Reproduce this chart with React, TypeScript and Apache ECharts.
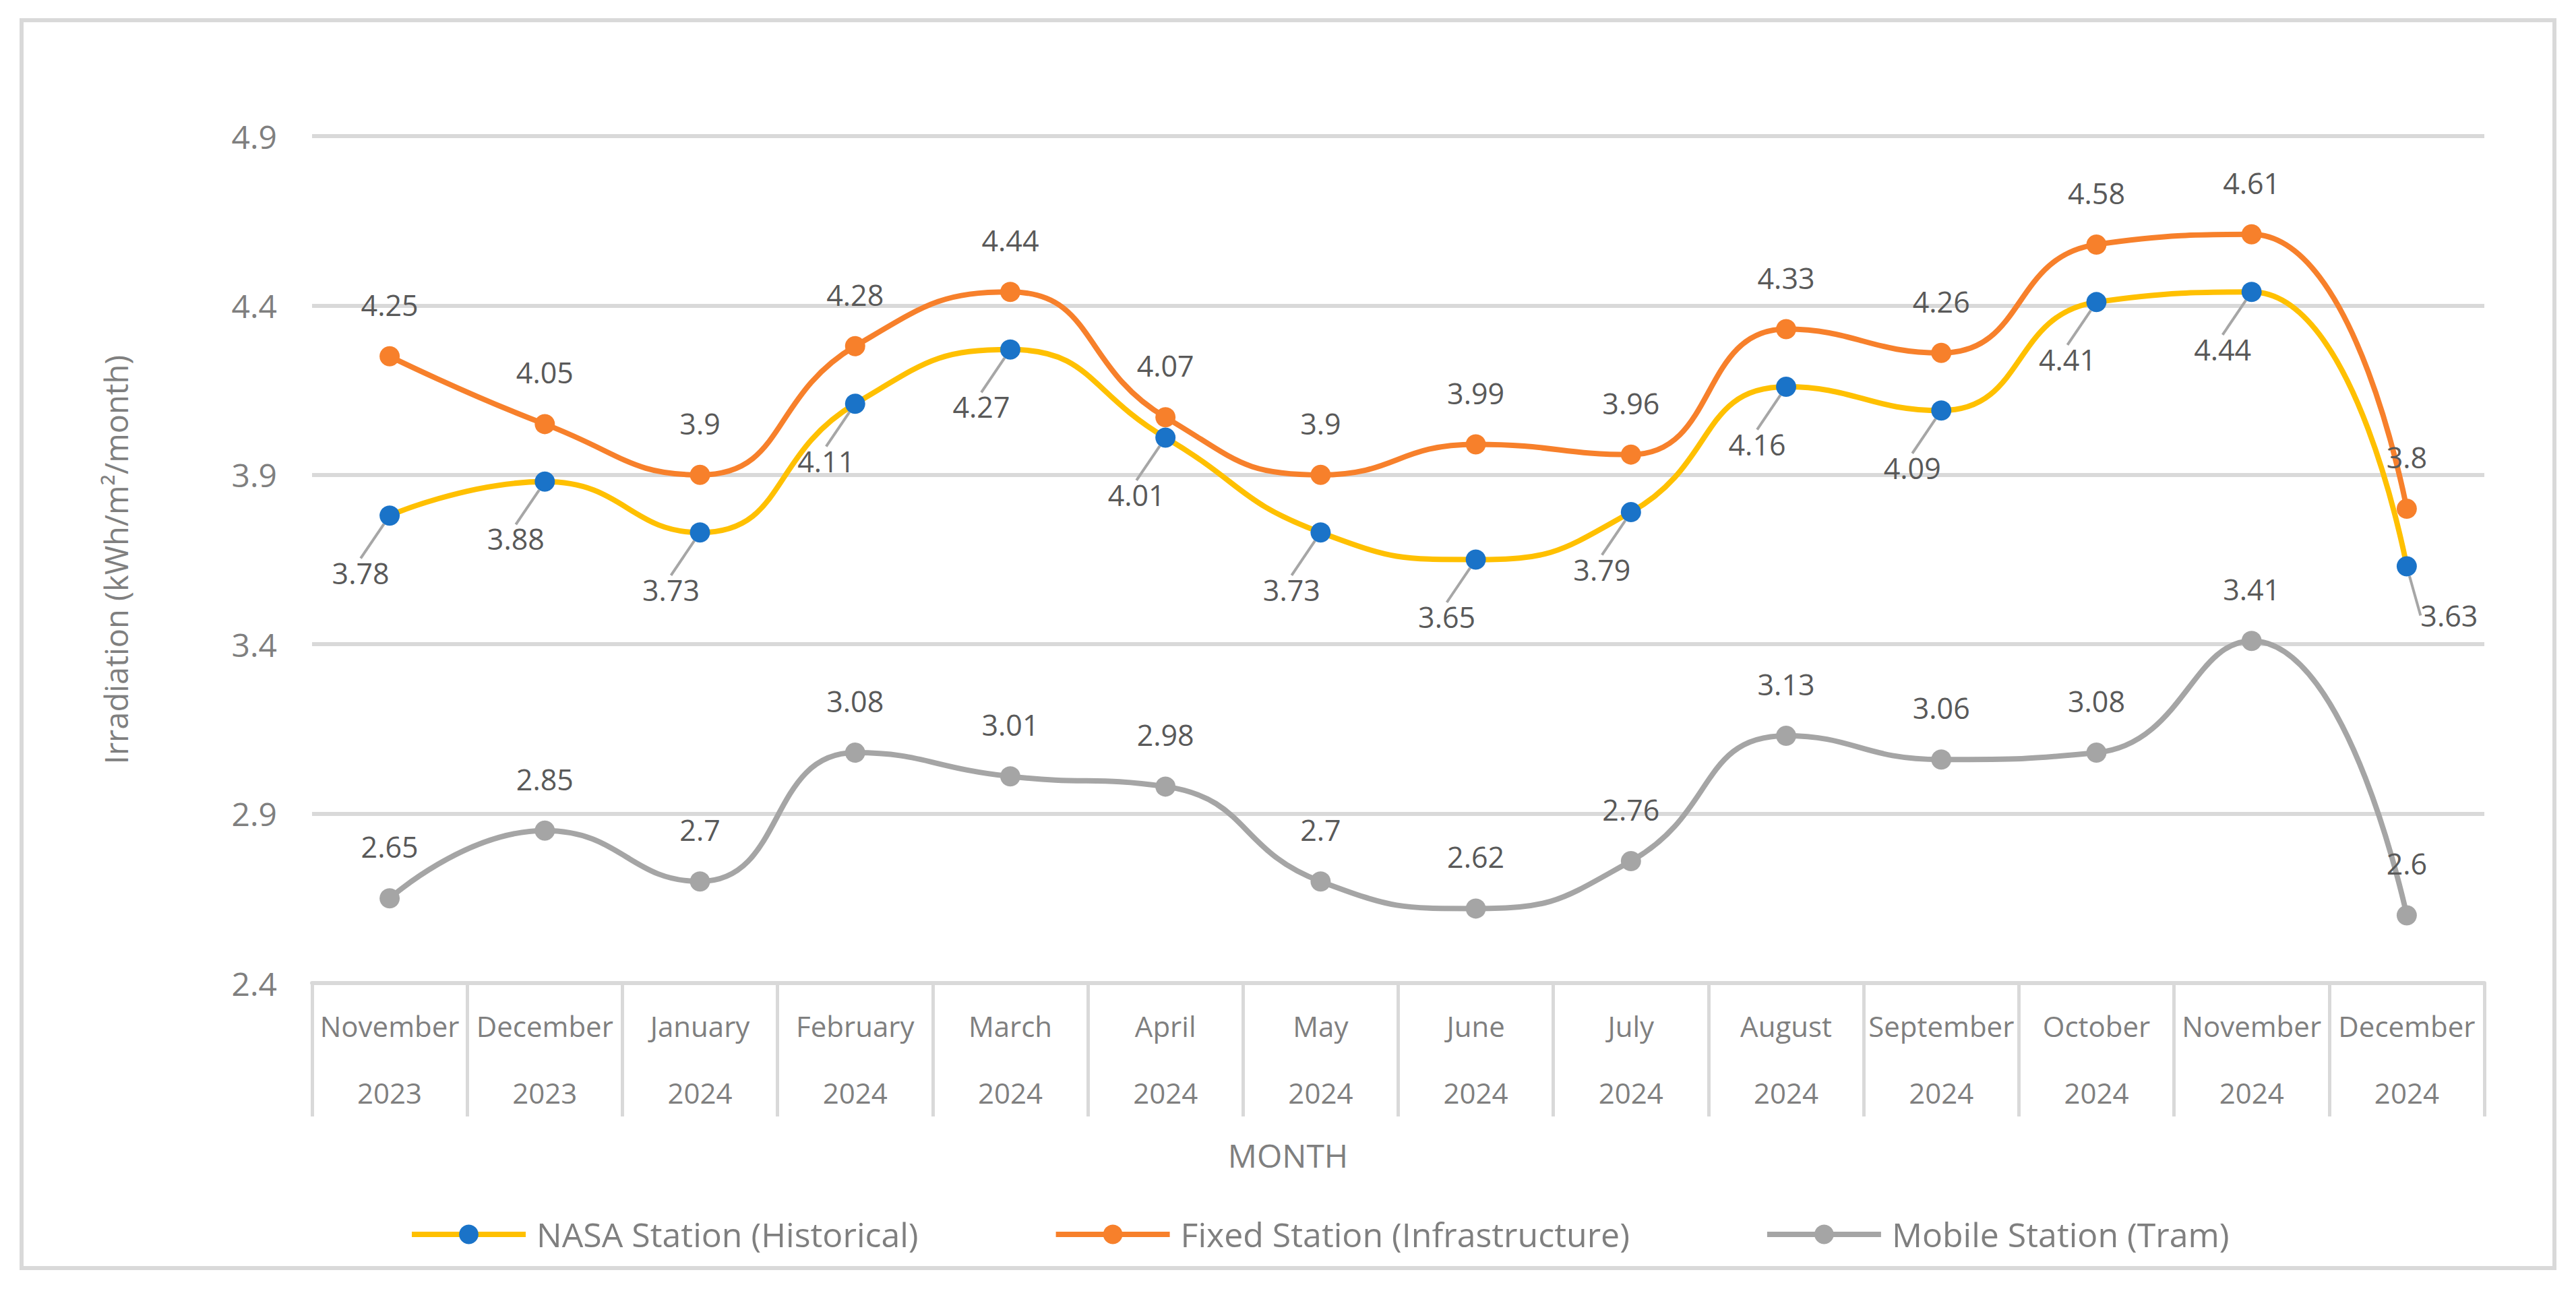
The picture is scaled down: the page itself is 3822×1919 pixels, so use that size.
import { useEffect, useRef } from 'react';
import * as echarts from 'echarts';

const months = [
  'November', 'December', 'January', 'February', 'March', 'April', 'May',
  'June', 'July', 'August', 'September', 'October', 'November', 'December',
];
const years = [
  '2023', '2023', '2024', '2024', '2024', '2024', '2024',
  '2024', '2024', '2024', '2024', '2024', '2024', '2024',
];

const nasaValues = [3.78, 3.88, 3.73, 4.11, 4.27, 4.01, 3.73, 3.65, 3.79, 4.16, 4.09, 4.41, 4.44, 3.63];
const fixedValues = [4.25, 4.05, 3.9, 4.28, 4.44, 4.07, 3.9, 3.99, 3.96, 4.33, 4.26, 4.58, 4.61, 3.8];
const mobileValues = [2.65, 2.85, 2.7, 3.08, 3.01, 2.98, 2.7, 2.62, 2.76, 3.13, 3.06, 3.08, 3.41, 2.6];

const seriesNames = [
  'NASA Station (Historical)',
  'Fixed Station (Infrastructure)',
  'Mobile Station (Tram)',
];

const FONT = 'Open Sans';
const AXIS_TEXT = '#7f7f7f';
const LABEL_TEXT = '#595959';
const GRID = '#d9d9d9';

export default function App() {
  const chartRef = useRef<HTMLDivElement>(null);

  useEffect(() => {
    if (!chartRef.current) return;
    const chart = echarts.init(chartRef.current, undefined, { renderer: 'svg' });

    const categories = months.map((m, i) => `${m}\n${years[i]}`);

    const dataLabel = {
      show: true,
      position: 'top' as const,
      distance: 40,
      fontFamily: FONT,
      fontSize: 43,
      color: LABEL_TEXT,
    };

    const option: echarts.EChartsOption = {
      animation: false,
      backgroundColor: '#fff',
      textStyle: { fontFamily: FONT },
      grid: { left: 463, right: 136, top: 202, bottom: 460, containLabel: false },
      graphic: [
        {
          type: 'rect',
          shape: { x: 32, y: 30, width: 3758, height: 1852 },
          style: { fill: 'none', stroke: GRID, lineWidth: 6 },
          silent: true,
        },
        {
          type: 'text',
          x: 1911,
          y: 1714,
          style: {
            text: 'MONTH',
            fontFamily: FONT,
            fontSize: 48,
            fill: AXIS_TEXT,
            align: 'center',
            verticalAlign: 'middle',
          },
        },
      ],
      legend: {
        left: 607,
        top: 1807,
        itemWidth: 169,
        itemHeight: 36,
        itemGap: 200,
        padding: 0,
        lineStyle: { width: 8 },
        textStyle: { fontFamily: FONT, fontSize: 50, color: AXIS_TEXT, padding: [0, 0, 0, 11] },
        data: seriesNames,
      },
      xAxis: {
        type: 'category',
        data: categories,
        boundaryGap: true,
        axisLine: { show: true, lineStyle: { color: GRID, width: 6 } },
        axisTick: {
          show: true,
          interval: 0,
          length: 198,
          lineStyle: { color: GRID, width: 5 },
        },
        axisLabel: {
          interval: 0,
          fontFamily: FONT,
          fontSize: 42,
          color: AXIS_TEXT,
          lineHeight: 99,
          margin: 14,
        },
      },
      yAxis: {
        type: 'value',
        min: 2.4,
        max: 4.9,
        interval: 0.5,
        name: 'Irradiation (kWh/m²/month)',
        nameLocation: 'middle',
        nameGap: 268,
        nameTextStyle: { fontFamily: FONT, fontSize: 47, color: AXIS_TEXT },
        axisLine: { show: false },
        axisTick: { show: false },
        axisLabel: {
          fontFamily: FONT,
          fontSize: 48,
          color: AXIS_TEXT,
          margin: 52,
          formatter: (v: number) => String(Math.round(v * 10) / 10),
        },
        splitLine: { lineStyle: { color: GRID, width: 6 } },
      },
      series: [
        {
          name: seriesNames[0],
          type: 'line',
          data: nasaValues,
          smooth: 0.5,
          symbol: 'circle',
          symbolSize: 30,
          lineStyle: { color: '#FFC000', width: 8 },
          itemStyle: { color: '#1A73C8' },
          label: { ...dataLabel, position: 'inside', distance: 0 },
          labelLine: { show: true, lineStyle: { color: '#a6a6a6', width: 4 } },
          labelLayout: (params: any) =>
            params.dataIndex === nasaValues.length - 1
              ? { dx: 63, dy: 73 }
              : { dx: -43, dy: 85 },
          z: 3,
        },
        {
          name: seriesNames[1],
          type: 'line',
          data: fixedValues,
          smooth: 0.5,
          symbol: 'circle',
          symbolSize: 30,
          lineStyle: { color: '#F7802B', width: 8 },
          itemStyle: { color: '#F7802B' },
          label: dataLabel,
          z: 2,
        },
        {
          name: seriesNames[2],
          type: 'line',
          data: mobileValues,
          smooth: 0.5,
          symbol: 'circle',
          symbolSize: 30,
          lineStyle: { color: '#A5A5A5', width: 8 },
          itemStyle: { color: '#A5A5A5' },
          label: dataLabel,
          z: 2,
        },
      ],
    };

    chart.setOption(option);

    return () => {
      chart.dispose();
    };
  }, []);

  return (
    <div
      ref={chartRef}
      style={{ position: 'absolute', left: 0, top: 0, width: '3822px', height: '1919px' }}
    />
  );
}
